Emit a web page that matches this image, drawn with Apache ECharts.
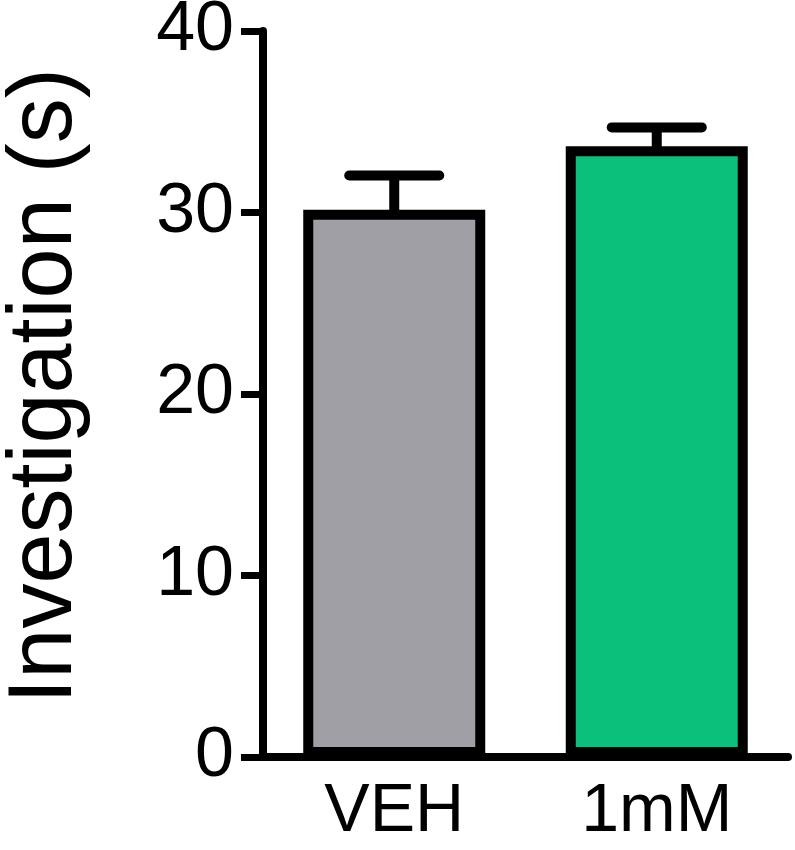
<!DOCTYPE html>
<html>
<head>
<meta charset="utf-8">
<script src="https://cdn.jsdelivr.net/npm/echarts@6/dist/echarts.min.js"></script>
<style>
html,body{margin:0;padding:0;background:#fff;}
#chart{width:795px;height:850px;}
</style>
</head>
<body>
<div id="chart"></div>
<script>
const categories = ['VEH', '1mM'];
const means = [30.15, 33.65];
const sems = [1.89, 1.04];
const barColors = ['#a09fa6', '#0bc07a'];
const yTicks = [0, 10, 20, 30, 40];
const yLabel = 'Investigation (s)';

const FONT = '"Liberation Sans", Arial, sans-serif';
const chart = echarts.init(document.getElementById('chart'));

const option = {
  animation: false,
  backgroundColor: '#ffffff',
  grid: { left: 263, top: 31, width: 525, height: 726, containLabel: false, outerBoundsMode: 'none' },
  xAxis: {
    type: 'category',
    data: categories,
    axisLine: { lineStyle: { color: '#000', width: 8, cap: 'round' } },
    axisTick: { show: false },
    axisLabel: { color: '#000', fontSize: 68, fontFamily: FONT, margin: 21 }
  },
  yAxis: {
    type: 'value',
    min: yTicks[0],
    max: yTicks[yTicks.length - 1],
    interval: 10,
    splitLine: { show: false },
    axisLine: { show: true, lineStyle: { color: '#000', width: 8 } },
    axisTick: { show: true, length: 22, lineStyle: { color: '#000', width: 7 } },
    axisLabel: { color: '#000', fontSize: 70, fontFamily: FONT, margin: 29 },
    name: yLabel,
    nameLocation: 'middle',
    nameRotate: 90,
    nameGap: 172,
    nameTextStyle: { color: '#000', fontSize: 90, fontFamily: FONT, padding: [0, 0, 0, 16] }
  },
  series: [
    {
      type: 'bar',
      barWidth: 182,
      data: means.map((v, i) => ({
        value: v,
        itemStyle: { color: barColors[i], borderColor: '#000', borderWidth: 10 }
      })),
      z: 2
    },
    {
      type: 'custom',
      z: 3,
      data: means.map((m, i) => [i, m, m + sems[i]]),
      renderItem: function (params, api) {
        const x = api.value(0);
        const base = api.coord([x, api.value(1)]);
        const top = api.coord([x, api.value(2)]);
        const half = 45;
        const style = { stroke: '#000', lineWidth: 10, lineCap: 'round' };
        return {
          type: 'group',
          children: [
            { type: 'line', shape: { x1: base[0], y1: base[1] + 5, x2: top[0], y2: top[1] }, style: Object.assign({}, style, { lineCap: 'butt' }) },
            { type: 'line', shape: { x1: top[0] - half, y1: top[1], x2: top[0] + half, y2: top[1] }, style: style }
          ]
        };
      }
    }
  ]
};
chart.setOption(option);
</script>
</body>
</html>
